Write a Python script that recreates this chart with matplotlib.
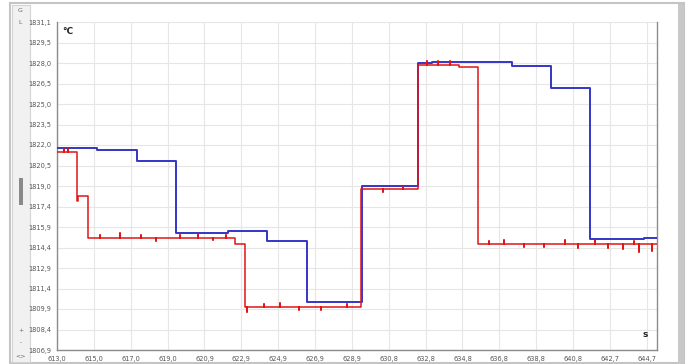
import numpy as np
import matplotlib.pyplot as plt
from matplotlib.patches import Rectangle

# Temperature trace: blue = setpoint, red = measured (°C vs s)
blue_t = [613.0, 615.15, 617.29, 619.39, 622.18, 624.27, 626.42, 629.37,
          632.43, 633.13, 637.48, 639.57, 641.66, 644.56, 645.25]
blue_T = [1821.80, 1821.66, 1820.84, 1815.55, 1815.70, 1814.96, 1810.46, 1819.00,
          1828.05, 1828.15, 1827.85, 1826.20, 1815.07, 1815.16, 1815.16]

# measured levels (step start times and values)
red_t = [613.0, 614.06, 614.15, 614.68, 622.55, 623.13, 629.36, 632.43, 634.6, 635.61, 645.25]
red_T = [1821.53, 1817.90, 1818.28, 1815.19, 1814.72, 1810.10, 1818.76, 1827.93, 1827.75,
         1814.72, 1814.72]

# short excursions on the measured trace (time, peak value)
spike_t = [613.4, 613.6, 615.3, 616.4, 617.5, 618.3, 619.6, 620.6, 621.4, 622.1,
           623.2, 624.1, 625.0, 626.0, 627.2, 628.6, 630.5, 631.6,
           632.9, 633.5, 634.1, 636.2, 637.0, 638.1, 639.2, 640.3, 641.0,
           641.9, 642.6, 643.4, 644.0, 644.3, 645.0]
spike_T = [1821.70, 1821.75, 1815.40, 1815.50, 1815.35, 1814.95, 1815.38, 1815.45, 1815.00, 1815.40,
           1809.70, 1810.30, 1810.35, 1809.85, 1809.85, 1810.30, 1818.55, 1818.90,
           1828.20, 1828.25, 1828.20, 1814.95, 1815.00, 1814.50, 1814.50, 1815.00, 1814.45,
           1815.00, 1814.40, 1814.35, 1814.95, 1814.10, 1814.20]

x_labels = ["613,0", "615,0", "617,0", "619,0", "620,9", "622,9", "624,9", "626,9", "628,9",
            "630,8", "632,8", "634,8", "636,8", "638,8", "640,8", "642,7", "644,7"]
y_labels = ["1806,9", "1808,4", "1809,9", "1811,4", "1812,9", "1814,4", "1815,9", "1817,4",
            "1819,0", "1820,5", "1822,0", "1823,5", "1825,0", "1826,5", "1828,0", "1829,5", "1831,1"]

W, H = 690, 364
fig = plt.figure(figsize=(W / 100, H / 100), dpi=100)
fig.patch.set_facecolor('white')

# window chrome: outer frame, left tool strip with scrollbar, right edge bar
def px_rect(x0, y0, x1, y1, **kw):
    fig.patches.append(Rectangle((x0 / W, 1 - y1 / H), (x1 - x0) / W, (y1 - y0) / H,
                                 transform=fig.transFigure, figure=fig, zorder=-10, **kw))

px_rect(10, 3, 684, 363, facecolor='white', edgecolor='#c4c4c4', lw=1.5)
px_rect(12, 5, 30, 362, facecolor='#f1f1f1', edgecolor='#d4d4d4', lw=0.8)
px_rect(18.5, 178, 22.5, 205, facecolor='#8a8a8a', edgecolor='none')
px_rect(678, 4, 684, 363, facecolor='#c8c8c8', edgecolor='none')
for txt, yy in [("G", 11), ("L", 23), ("+", 330), ("-", 343), ("<>", 356)]:
    fig.text(20.5 / W, 1 - yy / H, txt, fontsize=4.5, color='#666666',
             ha='center', va='center')

ax = fig.add_axes([57 / W, 1 - 350 / H, 600 / W, 328 / H])
ax.patch.set_alpha(0)
ax.plot(blue_t, blue_T, color='#3535c8', lw=1.4, drawstyle='steps-post', zorder=3)

# merge the excursions into the step trace: each one jumps out and straight back
pts = sorted(list(zip(red_t, red_T, [False] * len(red_t)))
             + list(zip(spike_t, spike_T, [True] * len(spike_t))))
tt, vv = [], []
level = red_T[0]
for t, v, is_spike in pts:
    if is_spike:
        tt += [t, t, t]
        vv += [level, v, level]
    else:
        level = v
        tt.append(t)
        vv.append(v)
ax.plot(tt, vv, color='#e01515', lw=1.1, drawstyle='steps-post', zorder=4)

xt = np.linspace(613.0, 644.7, len(x_labels))
yt = np.linspace(1806.9, 1831.1, len(y_labels))
ax.set_xlim(613.0, 645.25)
ax.set_ylim(1806.9, 1831.1)
ax.set_xticks(xt)
ax.set_xticklabels(x_labels)
ax.set_yticks(yt)
ax.set_yticklabels(y_labels)
ax.tick_params(length=0, labelsize=4.8, labelcolor='#555555', pad=4)
ax.grid(True, color='#e6e6e6', lw=0.8)
ax.set_axisbelow(True)

ax.spines['top'].set_visible(False)
for side in ['left', 'right', 'bottom']:
    ax.spines[side].set_color('#8c8c8c')
    ax.spines[side].set_linewidth(1.0)

ax.text(0.008, 0.985, "°C", transform=ax.transAxes, fontsize=6.5,
        fontweight='bold', color='#222222', ha='left', va='top')
ax.text(0.985, 0.035, "s", transform=ax.transAxes, fontsize=6.5,
        fontweight='bold', color='#222222', ha='right', va='bottom')

fig.savefig('out.png', dpi=100)
